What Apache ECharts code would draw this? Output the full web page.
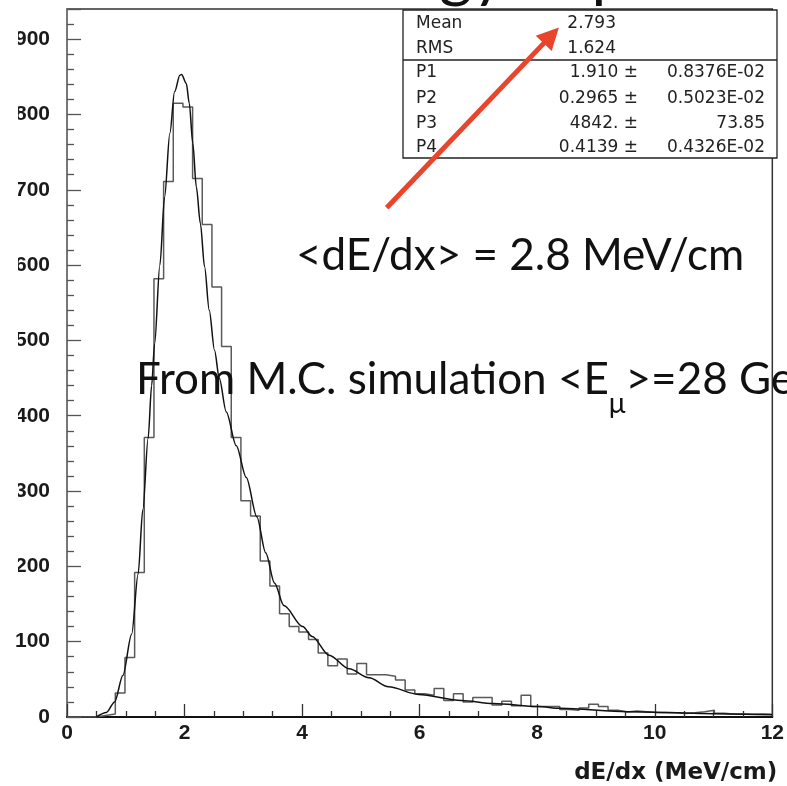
<!DOCTYPE html>
<html>
<head>
<meta charset="utf-8">
<script src="https://cdn.jsdelivr.net/npm/echarts@6/dist/echarts.min.js"></script>
<style>
html,body{margin:0;padding:0;background:#fff;}
#chart{width:787px;height:786px;}
</style>
</head>
<body>
<div id="chart"></div>
<script>
// ---------- data ----------
const xMin = 0, xMax = 12;
const nBins = 73;
const binWidth = (xMax - xMin) / nBins;
// histogram counts per bin (dE/dx, MeV/cm)
const counts = [0,0,0,2,4,32,79,192,371,582,711,815,810,715,654,571,492,371,287,267,207,174,137,120,113,103,85,68,77,57,71,56,56,54,49,36,31,29,38,22,31,20,26,26,16,21,15,29,14,14,14,10,9,12,17,14,9,6.5,8,7,6,6,5.5,4.5,5.5,7,9,5,4,4,3.5,4,3.5];
// fitted curve (Landau x Gauss)
const fitX = [0.50,0.67,0.81,0.95,1.10,1.21,1.29,1.38,1.44,1.49,1.58,1.66,1.75,1.83,1.92,1.95,2.03,2.08,2.14,2.20,2.27,2.34,2.42,2.51,2.59,2.71,2.88,3.05,3.23,3.38,3.53,3.69,4.01,4.17,4.46,4.80,5.14,5.47,5.98,6.71,7.25,8.02,8.39,9.54,11.24,12.0];
const fitY = [0,6,20,55,110,190,275,370,440,495,600,690,775,830,852,853,841,815,762,704,655,598,540,487,450,405,360,318,266,218,178,148,120,107,82,64,52,40,30,22,18,14,11.5,7,4,3];
// axis ticks
const xTickInterval = 2;
const yTickInterval = 100;
const yMaxValue = 940;
// statistics box
const statTopLabels = ['Mean', 'RMS'];
const statTopValues = ['2.793', '1.624'];
const statParLabels = ['P1', 'P2', 'P3', 'P4'];
const statParValues = ['1.910', '0.2965', '4842.', '0.4139'];
const statParErrors = ['0.8376E-02', '0.5023E-02', '73.85', '0.4326E-02'];
// arrow annotation (data coordinates)
const arrowFrom = [5.44, 676];
const arrowTo = [8.24, 905];
// annotation texts
const titleText = 'Energy deposition';
const meanText = '<dE/dx> = 2.8 MeV/cm';
const mcTextA = 'From M.C. simulation <E';
const mcTextSub = 'μ';
const mcTextB = '>=28 GeV';

// ---------- build ----------
const histData = [];
for (let i = 0; i <= nBins; i++) {
  histData.push([xMin + i * binWidth, counts[Math.min(i, nBins - 1)]]);
}
const fitData = fitX.map((x, i) => [x, fitY[i]]);

const chart = echarts.init(document.getElementById('chart'), null, {renderer: 'canvas'});

const bigFont = '44px Lato';
const titleFont = '64px Lato';
const ctx = document.createElement('canvas').getContext('2d');
ctx.font = bigFont;
const wA = ctx.measureText(mcTextA).width;
ctx.font = '28px Lato';
const wSub = ctx.measureText(mcTextSub).width;
ctx.font = titleFont;
const wEner = ctx.measureText('Ener').width;

const statFont = '17px "DejaVu Sans"';
const statGraphics = [];
const boxL = 403, boxT = 10, boxR = 777, boxB = 158, boxDiv = 60;
statGraphics.push({type:'rect', shape:{x:boxL, y:boxT, width:boxR-boxL, height:boxB-boxT}, style:{fill:'#fff', stroke:'#222', lineWidth:1.3}, z:1});
statGraphics.push({type:'line', shape:{x1:boxL, y1:boxDiv, x2:boxR, y2:boxDiv}, style:{stroke:'#222', lineWidth:1.3}, z:1});
const topRows = [23.5, 49];
statTopLabels.forEach((l, i) => {
  statGraphics.push({type:'text', x:416, y:topRows[i], style:{text:l, font:statFont, fill:'#222', align:'left', verticalAlign:'middle'}, z:1});
  statGraphics.push({type:'text', x:616, y:topRows[i], style:{text:statTopValues[i], font:statFont, fill:'#222', align:'right', verticalAlign:'middle'}, z:1});
});
const parRows = [73, 98.5, 123.5, 148];
statParLabels.forEach((l, i) => {
  statGraphics.push({type:'text', x:416, y:parRows[i], style:{text:l, font:statFont, fill:'#222', align:'left', verticalAlign:'middle'}, z:1});
  statGraphics.push({type:'text', x:638, y:parRows[i], style:{text:statParValues[i] + ' ±', font:statFont, fill:'#222', align:'right', verticalAlign:'middle'}, z:1});
  statGraphics.push({type:'text', x:765, y:parRows[i], style:{text:statParErrors[i], font:statFont, fill:'#222', align:'right', verticalAlign:'middle'}, z:1});
});

const labelFont = {fontFamily: 'Liberation Sans', fontWeight: 'bold', fontSize: 21, color: '#1a1a1a'};

const option = {
  animation: false,
  backgroundColor: '#fff',
  grid: {left: 67, right: 11, top: 9, bottom: 69, show: true, borderColor: '#333', borderWidth: 1.5, backgroundColor: 'transparent'},
  xAxis: {
    type: 'value', min: xMin, max: xMax, interval: xTickInterval,
    name: 'dE/dx (MeV/cm)', nameLocation: 'end', nameGap: 5,
    nameTextStyle: {fontFamily: 'DejaVu Sans', fontWeight: 'bold', fontSize: 23, color: '#1a1a1a', align: 'right', verticalAlign: 'top', padding: [45, 0, 0, 0]},
    axisLine: {show: true, onZero: false, lineStyle: {color: '#111', width: 2}},
    axisTick: {show: true, inside: true, length: 13, lineStyle: {color: '#333', width: 1.3}},
    minorTick: {show: true, splitNumber: 4, length: 6, lineStyle: {color: '#333', width: 1.3}},
    axisLabel: Object.assign({margin: 6}, labelFont),
    splitLine: {show: false}
  },
  yAxis: {
    type: 'value', min: 0, max: yMaxValue, interval: yTickInterval,
    axisLine: {show: true, onZero: false, lineStyle: {color: '#777', width: 2}},
    axisTick: {show: true, inside: true, length: 14, lineStyle: {color: '#555', width: 1.3}},
    minorTick: {show: true, splitNumber: 5, length: 7, lineStyle: {color: '#555', width: 1.3}},
    axisLabel: Object.assign({margin: 17, showMaxLabel: false}, labelFont),
    splitLine: {show: false}
  },
  series: [
    {
      type: 'line', name: 'histogram', data: histData, step: 'end', symbol: 'none',
      lineStyle: {color: '#5a5a5a', width: 1.5}, z: 3
    },
    {
      type: 'line', name: 'fit', data: fitData, smooth: 0.3, smoothMonotone: 'x', symbol: 'none',
      lineStyle: {color: '#111', width: 1.5}, z: 4,
      markLine: {
        silent: true, animation: false,
        symbol: ['none', 'triangle'], symbolSize: 22,
        label: {show: false},
        itemStyle: {color: '#e8452c'},
        lineStyle: {color: '#e8452c', width: 5, type: 'solid'},
        data: [[{coord: arrowFrom}, {coord: arrowTo}]]
      }
    }
  ],
  graphic: [
    {type: 'rect', shape: {x: 0, y: 0, width: 18, height: 600}, style: {fill: '#fff'}, z: 100},
    {type: 'text', x: 440 - wEner, y: -25.5, style: {text: titleText, font: titleFont, fill: '#111', align: 'left', verticalAlign: 'middle'}, z: 60},
    {type: 'text', x: 296, y: 256, style: {text: meanText, font: bigFont, fill: '#111', align: 'left', verticalAlign: 'middle'}, z: 60},
    {type: 'text', x: 136, y: 380, style: {text: mcTextA, font: bigFont, fill: '#111', align: 'left', verticalAlign: 'middle'}, z: 60},
    {type: 'text', x: 136 + wA, y: 404, style: {text: mcTextSub, font: '28px Lato', fill: '#111', align: 'left', verticalAlign: 'middle'}, z: 60},
    {type: 'text', x: 136 + wA + wSub, y: 380, style: {text: mcTextB, font: bigFont, fill: '#111', align: 'left', verticalAlign: 'middle'}, z: 60}
  ].concat(statGraphics)
};
chart.setOption(option);
</script>
</body>
</html>
